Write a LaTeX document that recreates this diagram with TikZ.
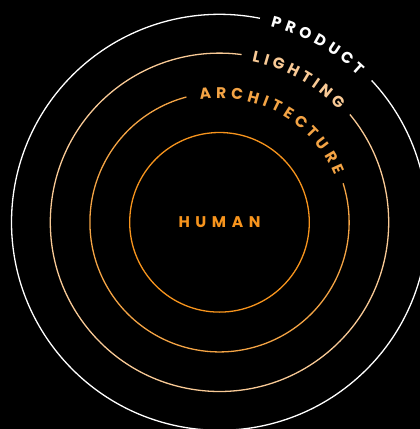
\documentclass[tikz,border=0pt]{standalone}
\usepackage{fontspec}
\newfontfamily\labfont{Poppins}[UprightFont=* Bold]
\usetikzlibrary{calc}
\definecolor{cA}{HTML}{F7941D}
\definecolor{cB}{HTML}{F4A445}
\definecolor{cC}{HTML}{F9CA96}
\definecolor{cD}{HTML}{FFFFFF}
\newlength\lw
\newcommand\getw[1]{% global \lwval = width of letter #1
  \pgfinterruptpicture\settowidth\lw{\labfont\fontsize{15.5}{15.5}\selectfont #1}\xdef\lwval{\the\lw}\endpgfinterruptpicture}
\newcommand\arcword[6]{% name, radius, centre angle, tracking, colour, letters
  \gdef\tot{0}%
  \foreach \ch in {#6}{\getw{\ch}\pgfmathsetmacro\t{\tot+\lwval+#4}\xdef\tot{\t}}%
  \pgfmathsetmacro\t{\tot-#4}\xdef\tot{\t}%
  \gdef\cum{0}%
  \foreach \ch [count=\i] in {#6}{%
    \getw{\ch}%
    \pgfmathsetmacro\ang{#3+(\tot/2-\cum-\lwval/2)/#2*180/pi}%
    \node[letter,text=#5,rotate=\ang-90] (#1-\i) at ($(O)+(\ang:#2pt)$) {\ch};%
    \pgfmathsetmacro\t{\cum+\lwval+#4}\xdef\cum{\t}%
  }%
}
\begin{document}
\begin{tikzpicture}[x=1pt,y=1pt,
  ring/.style={line width=1.3pt},
  letter/.style={inner sep=0pt,font=\labfont\fontsize{15.5}{15.5}\selectfont}]
\fill[black] (0,0) rectangle (420,-429);
\useasboundingbox (0,0) rectangle (420,-429);
\coordinate (O) at (219.5,-222.3);
% inner circle
\draw[ring,cA] (O) circle[radius=89.8];
\node[letter,text=cA] (human) at (O) {H\hspace{5.6pt}U\hspace{5.6pt}M\hspace{5.6pt}A\hspace{5.6pt}N};
% architecture ring
\draw[ring,cB] ($(O)+(17.5:129.6)$) arc[start angle=17.5,end angle=-255.2,radius=129.6];
\arcword{arch}{129.6}{60.5}{5.1}{cB}{A,R,C,H,I,T,E,C,T,U,R,E}
% lighting ring
\draw[ring,cC] ($(O)+(39.6:169.2)$) arc[start angle=39.6,end angle=-277.5,radius=169.2];
\arcword{light}{169.2}{61}{4.5}{cC}{L,I,G,H,T,I,N,G}
% product ring
\draw[ring,cD] ($(O)+(43:208)$) arc[start angle=43,end angle=-281.2,radius=208];
\arcword{prod}{208}{61}{4.9}{cD}{P,R,O,D,U,C,T}
\end{tikzpicture}
\end{document}
